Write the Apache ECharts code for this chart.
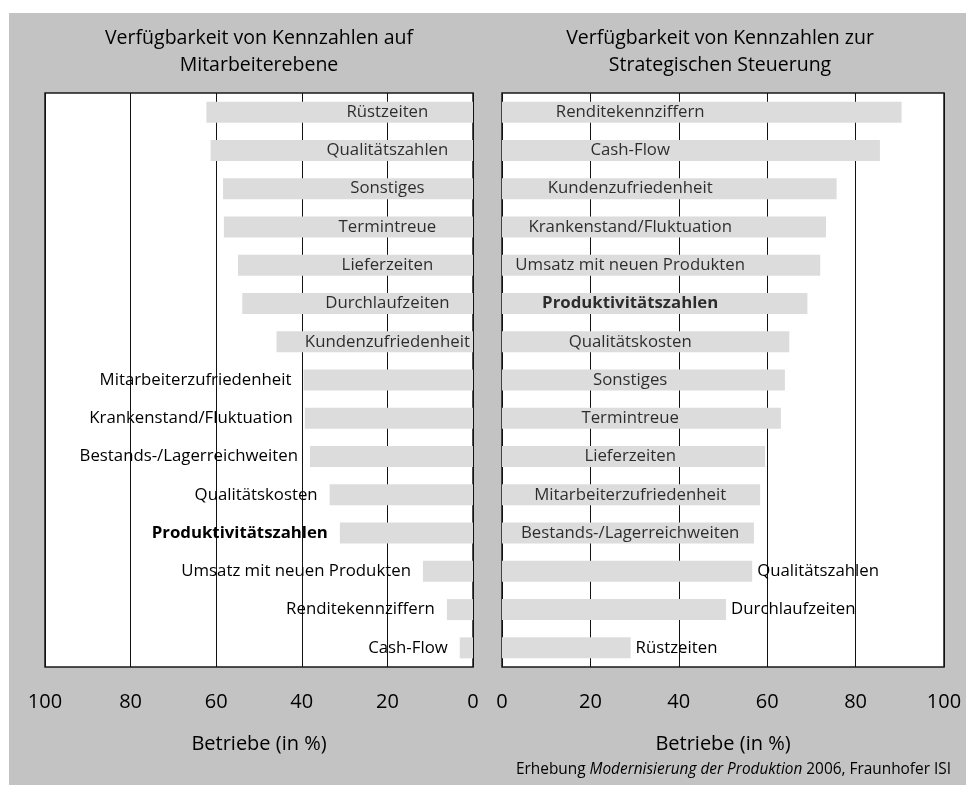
<!DOCTYPE html>
<html>
<head>
<meta charset="utf-8">
<script src="https://cdn.jsdelivr.net/npm/echarts@6/dist/echarts.min.js"></script>
<style>
  html, body { margin: 0; padding: 0; background: #ffffff; }
  #bg { position: absolute; left: 9px; top: 13px; width: 957px; height: 772px; background: #c3c3c3; }
  #chart { position: absolute; left: 0; top: 0; width: 966px; height: 785px; }
</style>
</head>
<body>
<div id="bg"></div>
<div id="chart"></div>
<script>
// ---- Data ----
const leftTitle = 'Verfügbarkeit von Kennzahlen auf\nMitarbeiterebene';
const rightTitle = 'Verfügbarkeit von Kennzahlen zur\nStrategischen Steuerung';
const leftCategories = ['Rüstzeiten', 'Qualitätszahlen', 'Sonstiges', 'Termintreue', 'Lieferzeiten',
  'Durchlaufzeiten', 'Kundenzufriedenheit', 'Mitarbeiterzufriedenheit', 'Krankenstand/Fluktuation',
  'Bestands-/Lagerreichweiten', 'Qualitätskosten', 'Produktivitätszahlen', 'Umsatz mit neuen Produkten',
  'Renditekennziffern', 'Cash-Flow'];
const leftValues = [62.3, 61.3, 58.4, 58.2, 54.9, 53.9, 45.9, 39.6, 39.3, 38.1, 33.5, 31.1, 11.7, 6.1, 3.1];
const rightCategories = ['Renditekennziffern', 'Cash-Flow', 'Kundenzufriedenheit', 'Krankenstand/Fluktuation',
  'Umsatz mit neuen Produkten', 'Produktivitätszahlen', 'Qualitätskosten', 'Sonstiges', 'Termintreue',
  'Lieferzeiten', 'Mitarbeiterzufriedenheit', 'Bestands-/Lagerreichweiten', 'Qualitätszahlen',
  'Durchlaufzeiten', 'Rüstzeiten'];
const rightValues = [90.4, 85.5, 75.7, 73.3, 72.0, 69.1, 65.0, 64.0, 63.1, 59.5, 58.4, 57.0, 56.6, 50.7, 29.1];
const xTickValues = [0, 20, 40, 60, 80, 100];
const axisName = 'Betriebe (in %)';
const sourceNote = ['Erhebung ', 'Modernisierung der Produktion', ' 2006, Fraunhofer ISI'];
const boldCategory = 'Produktivitätszahlen';

// ---- Layout / style constants ----
const FONT = 'Open Sans';
const TXT = '#000000';
const BAR = '#dcdcdc';
const LEFT_INSIDE = 7;     // rows whose label sits inside the bar
const RIGHT_INSIDE = 12;
const LEFT_LABEL_AT = 20;  // axis value at which inside labels are centred
const RIGHT_LABEL_AT = 29;

const richStyles = {
  n: { fontFamily: FONT, fontSize: 16.8, color: TXT, fontWeight: 'normal' },
  b: { fontFamily: FONT, fontSize: 16.8, color: TXT, fontWeight: 'bold' }
};
function fmt(name) { return name === boldCategory ? '{b|' + name + '}' : '{n|' + name + '}'; }

function xAxisFor(gridIndex, inverse) {
  return {
    type: 'value', gridIndex: gridIndex, min: 0, max: 100, interval: 20, inverse: inverse,
    axisLine: { show: false }, axisTick: { show: false },
    splitLine: { show: true, lineStyle: { color: '#111', width: 1 } },
    axisLabel: {
      margin: 25, fontFamily: FONT, fontSize: 20, color: TXT,
      formatter: function (v) { return xTickValues.indexOf(v) >= 0 ? String(v) : ''; }
    },
    name: axisName, nameLocation: 'middle', nameGap: 67,
    nameTextStyle: { fontFamily: FONT, fontSize: 20, color: TXT }
  };
}
function yAxisFor(gridIndex, cats) {
  return {
    type: 'category', gridIndex: gridIndex, data: cats, inverse: true,
    axisLine: { show: false }, axisTick: { show: false }, axisLabel: { show: false },
    splitLine: { show: false }
  };
}

const leftBarData = leftValues.map(function (v, i) {
  return {
    value: v,
    label: i >= LEFT_INSIDE
      ? { show: true, position: 'left', distance: 12, formatter: function (p) { return fmt(p.name); }, rich: richStyles }
      : { show: false }
  };
});
const rightBarData = rightValues.map(function (v, i) {
  return {
    value: v,
    label: i >= RIGHT_INSIDE
      ? { show: true, position: 'right', distance: 5, formatter: function (p) { return fmt(p.name); }, rich: richStyles }
      : { show: false }
  };
});
const leftInsideLabels = leftCategories.slice(0, LEFT_INSIDE).map(function (c) { return [LEFT_LABEL_AT, c]; });
const rightInsideLabels = rightCategories.slice(0, RIGHT_INSIDE).map(function (c) { return [RIGHT_LABEL_AT, c]; });

const labelScatter = function (xi, data) {
  return {
    type: 'scatter', xAxisIndex: xi, yAxisIndex: xi, data: data, symbolSize: 1, z: 5,
    itemStyle: { color: 'rgba(0,0,0,0)' }, silent: true,
    label: {
      show: true, position: 'inside', color: TXT,
      formatter: function (p) { return fmt(p.value[1]); }, rich: richStyles
    }
  };
};

const titleStyle = { fontFamily: FONT, fontSize: 19.5, fontWeight: 'normal', color: TXT, lineHeight: 27 };
const chart = echarts.init(document.getElementById('chart'), null, { renderer: 'canvas' });
chart.setOption({
  backgroundColor: 'transparent',
  animation: false,
  title: [
    { text: leftTitle, left: 254, top: 20, textAlign: 'center', textStyle: titleStyle },
    { text: rightTitle, left: 715, top: 20, textAlign: 'center', textStyle: titleStyle },
    { text: '{n|' + sourceNote[0] + '}{i|' + sourceNote[1] + '}{n|' + sourceNote[2] + '}',
      right: 10, top: 757,
      textStyle: { fontWeight: 'normal', rich: {
        n: { fontFamily: FONT, fontSize: 15.4, color: TXT, fontWeight: 'normal' },
        i: { fontFamily: FONT, fontSize: 15.4, color: TXT, fontWeight: 'normal', fontStyle: 'italic' }
      } } }
  ],
  grid: [
    { left: 45, top: 93, width: 428, height: 574, show: true, backgroundColor: '#ffffff', borderColor: '#1a1a1a', borderWidth: 1.5 },
    { left: 502, top: 93, width: 442, height: 574, show: true, backgroundColor: '#ffffff', borderColor: '#1a1a1a', borderWidth: 1.5 }
  ],
  xAxis: [xAxisFor(0, true), xAxisFor(1, false)],
  yAxis: [yAxisFor(0, leftCategories), yAxisFor(1, rightCategories)],
  series: [
    { type: 'bar', xAxisIndex: 0, yAxisIndex: 0, data: leftBarData, barWidth: 21,
      itemStyle: { color: BAR }, silent: true },
    { type: 'bar', xAxisIndex: 1, yAxisIndex: 1, data: rightBarData, barWidth: 21,
      itemStyle: { color: BAR }, silent: true },
    labelScatter(0, leftInsideLabels),
    labelScatter(1, rightInsideLabels)
  ]
});
</script>
</body>
</html>
